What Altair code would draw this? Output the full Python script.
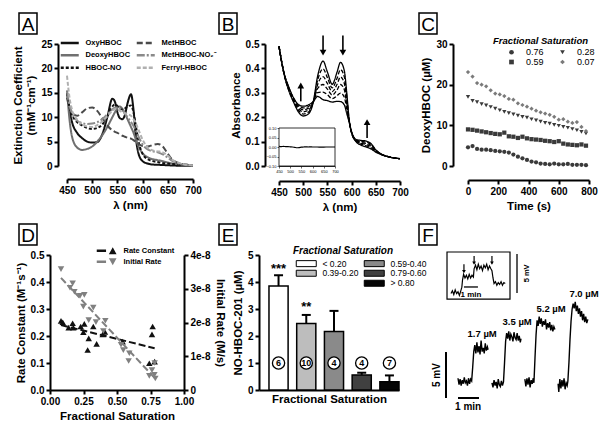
import altair as alt
import pandas as pd

FONT = 'Liberation Sans'

# ---------------- Panel A : extinction spectra ----------------
A_wl = [450,455,460,470,480,490,500,510,520,530,540,545,550,555,560,565,570,577,582,587,592,600,610,620,630,640,650,660,680,700]
A_oxy    = [15.0,11.5,9.0,6.8,5.7,5.0,4.8,4.9,6.5,10.0,13.8,13.2,11.0,9.8,9.6,10.5,12.8,14.7,11.5,5.5,2.5,1.0,0.5,0.3,0.25,0.2,0.15,0.1,0.05,0.03]
A_deoxy  = [15.5,9.5,6.0,3.8,3.3,3.5,4.0,5.0,6.3,8.0,10.0,11.0,11.9,12.2,11.7,10.8,9.6,8.0,6.8,5.3,4.0,2.6,1.8,1.4,1.2,1.0,0.7,0.5,0.3,0.15]
A_no     = [15.0,12.0,10.5,9.0,8.3,7.8,7.6,7.8,8.5,10.2,12.2,12.6,12.3,11.8,11.6,11.8,12.2,12.4,11.0,8.0,5.0,2.5,1.4,1.0,0.8,0.6,0.5,0.4,0.25,0.15]
A_met    = [14.0,12.0,11.0,10.3,11.0,11.8,12.0,11.3,9.8,8.3,7.3,7.0,6.8,6.5,6.2,6.0,5.8,5.6,5.3,4.9,4.5,4.1,4.0,4.3,4.5,4.0,2.5,1.2,0.4,0.2]
A_metno2 = [15.2,12.5,10.8,9.3,8.8,8.6,8.7,9.0,9.6,10.6,11.6,12.0,12.0,11.8,11.4,10.8,10.0,9.0,8.2,7.2,6.0,4.4,3.4,3.0,2.8,2.4,1.7,1.0,0.3,0.1]
A_ferryl = [18.5,14.0,11.5,9.5,8.5,8.1,8.0,8.4,9.1,10.2,11.3,11.7,11.6,11.3,11.0,10.8,10.6,10.3,9.6,8.6,7.4,5.4,3.8,3.2,3.0,2.8,2.1,1.2,0.4,0.15]
A_names = ['OxyHBOC', 'DeoxyHBOC', 'HBOC-NO', 'MetHBOC', 'MetHBOC-NO₂⁻', 'Ferryl-HBOC']
A_values = [A_oxy, A_deoxy, A_no, A_met, A_metno2, A_ferryl]

# ---------------- Panel B : absorbance time course ----------------
B_wl = [450,460,470,480,490,500,510,520,530,541,550,560,570,577,585,590,595,600,610,620,630,640,650,660,680,700]
B_c0 = [0.49,0.38,0.31,0.262,0.222,0.205,0.212,0.255,0.37,0.43,0.385,0.335,0.385,0.425,0.39,0.30,0.19,0.135,0.098,0.085,0.078,0.07,0.057,0.048,0.036,0.03]
B_c1 = [0.49,0.381,0.313,0.265,0.229,0.213,0.219,0.257,0.353,0.398,0.362,0.32,0.36,0.395,0.365,0.285,0.187,0.136,0.100,0.089,0.083,0.075,0.059,0.049,0.036,0.03]
B_c2 = [0.49,0.382,0.316,0.269,0.236,0.222,0.228,0.258,0.335,0.366,0.338,0.305,0.335,0.365,0.338,0.268,0.185,0.137,0.102,0.093,0.088,0.080,0.061,0.049,0.036,0.03]
B_c3 = [0.49,0.383,0.319,0.273,0.242,0.230,0.236,0.259,0.318,0.334,0.315,0.291,0.312,0.334,0.312,0.250,0.183,0.138,0.104,0.097,0.093,0.085,0.063,0.050,0.036,0.03]
B_c4 = [0.49,0.384,0.322,0.277,0.247,0.238,0.243,0.261,0.301,0.303,0.292,0.276,0.288,0.299,0.282,0.233,0.181,0.139,0.106,0.101,0.098,0.089,0.065,0.050,0.036,0.03]
B_c5 = [0.49,0.385,0.325,0.28,0.252,0.245,0.25,0.262,0.285,0.272,0.268,0.262,0.265,0.264,0.25,0.215,0.18,0.14,0.108,0.105,0.102,0.092,0.066,0.05,0.036,0.03]
B_curves = [B_c0, B_c1, B_c2, B_c3, B_c4, B_c5]
B_arrow_wl = [495, 541, 582, 632]
B_arrow_base = [0.265, 0.535, 0.535, 0.115]
B_arrow_tip = [0.33, 0.465, 0.465, 0.18]
Bi_wl = [450,460,470,480,490,500,510,520,530,540,550,560,570,580,590,600,620,640,660,680,700]
Bi_v = [0.003,0.002,0.003,0.002,0.002,0.001,0.0,-0.002,-0.004,-0.003,-0.001,0.0,0.001,0.0,0.001,0.0,0.0,-0.001,0.0,0.0,0.0]

# ---------------- Panel C : deoxy HBOC vs time ----------------
C_t = [0,30,60,90,120,150,180,210,240,270,300,330,360,390,420,450,480,510,540,570,600,630,660,690,720,750,780]
C_076 = [4.6,4.9,4.2,4.0,4.0,3.9,3.7,3.6,3.5,3.3,2.8,2.3,1.9,1.5,1.1,0.9,0.6,0.5,0.4,0.6,0.4,0.4,0.5,0.3,0.3,0.3,0.2]
C_059 = [9.0,8.9,8.7,8.5,8.3,8.1,7.9,7.8,8.2,7.3,7.2,6.9,7.2,6.8,6.6,6.5,6.4,6.2,6.1,5.9,6.1,5.5,5.3,5.2,5.1,5.3,5.0]
C_028 = [17.0,16.0,15.7,15.2,14.9,14.5,14.1,13.7,13.3,13.0,12.7,12.4,12.1,11.9,11.5,11.2,10.9,10.6,10.4,10.1,9.9,9.6,9.4,9.1,8.8,8.4,8.0]
C_007 = [23.1,22.0,20.4,20.0,19.6,18.6,17.8,17.6,17.2,16.5,16.3,15.4,15.0,14.6,14.1,13.6,13.2,12.9,12.6,12.1,11.4,11.5,10.9,10.6,10.8,9.6,8.6]
C_order = ['0.76', '0.59', '0.28', '0.07']
C_values = {'0.76': C_076, '0.59': C_059, '0.28': C_028, '0.07': C_007}

# ---------------- Panel D : rate constant / initial rate ----------------
D_rc_x = [0.082,0.095,0.139,0.169,0.174,0.229,0.256,0.249,0.281,0.289,0.323,0.348,0.393,0.41,0.542,0.741,0.761,0.766,0.781]
D_rc_y = [0.256,0.251,0.231,0.247,0.231,0.235,0.245,0.214,0.148,0.191,0.235,0.171,0.206,0.215,0.179,0.099,0.206,0.235,0.105]
D_ir_x = [0.082,0.149,0.169,0.182,0.224,0.256,0.249,0.323,0.289,0.343,0.413,0.398,0.530,0.547,0.592,0.587,0.741,0.761,0.779,0.786,0.781]
D_ir_y = [3.58e-8,3.03e-8,3.16e-8,2.91e-8,2.79e-8,2.82e-8,2.47e-8,2.44e-8,2.07e-8,2.01e-8,2.05e-8,1.75e-8,1.34e-8,1.18e-8,1.09e-8,0.86e-8,0.42e-8,0.59e-8,0.45e-8,0.34e-8,0.80e-8]
D_leg = ['Rate Constant', 'Initial Rate']

# ---------------- Panel E : NO-HBOC bars ----------------
E_groups = ['< 0.20', '0.39-0.20', '0.59-0.40', '0.79-0.60', '> 0.80']
E_mean = [3.85, 2.46, 2.17, 0.56, 0.31]
E_err = [0.40, 0.32, 0.76, 0.08, 0.23]
E_n = ['6', '10', '4', '4', '7']
E_sig = ['***', '**', '', '', '']
E_sig_y = [4.47, 3.07, 0, 0, 0]

# ---------------- Panel F : electrode traces (time s, signal mV) ----------------
F_t1 = [120,123,126,129,132,135,138,141,144,147,150,153,156,159,162,165,168,171,174,177,180,183,186,189,192,195,198,201,204,206]
F_v1 = [0.3,-0.4,0.2,-0.5,0.1,-0.3,0.4,-0.2,0.0,-0.5,0.3,-0.3,0.2,0.0,1.5,3.2,3.9,3.0,4.2,3.1,3.8,2.9,4.4,3.2,3.6,3.0,4.1,3.3,3.7,3.4]
F_t2 = [217,220,223,226,229,232,235,238,241,244,247,250,253,256,259,262,265,268,271,274,277,280,283,286,289,292,295,298,300]
F_v2 = [-0.2,-0.7,0.1,-0.5,-0.1,-0.8,0.2,-0.4,-0.6,0.0,-0.5,-0.1,2.0,4.3,5.2,4.6,5.4,4.4,5.1,4.8,4.3,5.3,4.7,4.5,5.2,4.4,4.9,4.2,4.6]
F_t3 = [311,314,317,320,323,326,329,332,335,337,340,343,346,349,352,355,358,361,364,367,370,373,376,379,382,385,388,391,394,397]
F_v3 = [0.2,-0.6,0.3,-0.4,0.4,-0.7,0.1,-0.3,0.3,-0.2,2.5,5.0,6.6,6.0,7.0,6.2,6.8,5.9,6.5,6.1,6.7,5.6,6.3,5.8,6.4,5.5,6.1,5.4,5.9,5.6]
F_t4 = [406,408,411,414,417,420,423,426,429,432,434,437,440,443,446,449,452,455,458,461,464,467,470,473,476,479,482,485,488,491]
F_v4 = [-0.3,-1.2,0.2,-0.8,0.1,-0.6,0.3,-0.9,-0.2,-0.5,0.0,2.0,4.5,6.5,7.8,8.4,7.9,8.6,7.6,8.2,7.3,7.9,7.0,7.6,6.6,7.3,6.4,7.0,6.3,6.7]
F_ti = [100,104,108,112,116,120,124,128,131,133,136,140,144,148,152,156,160,164,166,170,174,178,182,186,190,194,198,202,206,210,214,217,220,223,227,231,235,239,243,247,251,255]
F_vi = [9.5,9.8,9.4,9.9,9.5,9.7,9.3,9.8,10.2,11.0,11.6,11.2,11.5,11.1,11.6,11.2,11.5,11.3,12.2,12.6,12.1,12.7,12.2,12.5,12.0,12.6,12.3,12.7,12.1,12.5,12.2,12.0,11.2,10.6,10.8,10.4,10.7,10.5,10.8,10.4,10.7,10.6]
F_lab_text = ['1.7 µM', '3.5 µM', '5.2 µM', '7.0 µM']
F_lab_t = [189, 289, 386, 480]
F_lab_v = [5.1, 6.4, 7.8, 9.5]
F_bar_t = [85.7, 120]
F_bar_t2 = [85.7, 180]
F_bar_v = [3.15, -1.85]
F_bar_v2 = [-1.85, -1.85]
F_ibar_t = [137, 288.6]
F_ibar_t2 = [177, 288.6]
F_ibar_v = [10.22, 13.8]
F_ibar_v2 = [10.22, 9.57]
F_box = {'t1': 88.6, 't2': 268.6, 'v1': 8.91, 'v2': 14.02}
F_arrow_t = [137, 166, 217]
F_arrow_top = [12.7, 13.6, 13.6]
F_arrow_tip = [11.9, 12.8, 12.8]


def letter(ch, x1, y1, w=18, h=21):
    base = alt.Chart(pd.DataFrame({'k': [0]}))
    box = base.mark_rect(fill='white', stroke='black', strokeWidth=1.5).encode(
        x=alt.value(x1), x2=alt.value(x1 + w), y=alt.value(y1), y2=alt.value(y1 + h))
    txt = base.mark_text(text=ch, font=FONT, fontSize=19, align='center', baseline='middle').encode(
        x=alt.value(x1 + w / 2), y=alt.value(y1 + h / 2 + 1))
    return [box, txt]


# ======== Panel A ========
dfA = pd.DataFrame([{'wl': w, 'eps': v, 'series': n}
                    for n, vals in zip(A_names, A_values) for w, v in zip(A_wl, vals)])
legA = alt.Legend(orient='none', legendX=8, legendY=-5, columns=2, title=None,
                  symbolType='M-9,0H9', symbolSize=4, symbolStrokeWidth=2.5, symbolOffset=8,
                  labelFontSize=7.5, labelFontWeight='bold', columnPadding=0,
                  rowPadding=1.5, labelOffset=12, labelLimit=200)
lineA = alt.Chart(dfA).mark_line(strokeWidth=2, interpolate='monotone').encode(
    x=alt.X('wl:Q', scale=alt.Scale(domain=[450, 700], range=[17, 143], nice=False, zero=False),
            axis=alt.Axis(values=[450, 500, 550, 600, 650, 700], offset=13, title='λ (nm)')),
    y=alt.Y('eps:Q', scale=alt.Scale(domain=[0, 25], nice=False),
            axis=alt.Axis(values=[0, 5, 10, 15, 20, 25], offset=-8,
                          title=['Extinction Coefficient', '(mM⁻¹cm⁻¹)'])),
    color=alt.Color('series:N', scale=alt.Scale(domain=A_names,
                    range=['#111111', '#707070', '#111111', '#4a4a4a', '#8a8a8a', '#b0b0b0']), legend=legA),
    strokeDash=alt.StrokeDash('series:N', scale=alt.Scale(domain=A_names,
                              range=[[1, 0], [1, 0], [3, 2], [6, 3], [8, 2, 2, 2], [4, 2]]), legend=legA),
)
panelA = alt.layer(lineA, *letter('A', -31, -31)).properties(width=209, height=122)

# ======== Panel B ========
rowsB = []
for i, vals in enumerate(B_curves):
    for w, v in zip(B_wl, vals):
        rowsB.append({'wl': w, 'abs': v, 'curve': i,
                      'style': 'solid' if i in (0, len(B_curves) - 1) else 'dash'})
dfB = pd.DataFrame(rowsB)
xB_scale = alt.Scale(domain=[450, 700], range=[20, 141], nice=False, zero=False)
xB_axis = alt.Axis(values=[450, 500, 550, 600, 650, 700], offset=15, title='λ (nm)')
yB_scale = alt.Scale(domain=[0, 0.5], nice=False)
yB_axis = alt.Axis(values=[0, 0.1, 0.2, 0.3, 0.4, 0.5], format='.1f', offset=-6, title='Absorbance')
xB = alt.X('wl:Q', scale=xB_scale, axis=xB_axis)
lineB = alt.Chart(dfB).mark_line(color='black', strokeWidth=1.3, interpolate='monotone').encode(
    x=xB, y=alt.Y('abs:Q', scale=yB_scale, axis=yB_axis), detail='curve:N',
    strokeDash=alt.StrokeDash('style:N', scale=alt.Scale(domain=['solid', 'dash'], range=[[1, 0], [4, 2]]), legend=None))
dfBa = pd.DataFrame({'wl': B_arrow_wl, 'abs': B_arrow_base, 'tip': B_arrow_tip})
dfBa['dir'] = ['up' if t > b else 'down' for t, b in zip(B_arrow_tip, B_arrow_base)]
stemB = alt.Chart(dfBa).mark_rule(color='black', strokeWidth=1.6).encode(
    x=xB, y=alt.Y('abs:Q', scale=yB_scale, axis=yB_axis), y2='tip:Q')
headB = alt.Chart(dfBa).mark_point(filled=True, color='black', size=45, opacity=1).encode(
    x=xB, y=alt.Y('tip:Q', scale=yB_scale, axis=yB_axis),
    shape=alt.Shape('dir:N', scale=alt.Scale(domain=['up', 'down'], range=['triangle-up', 'triangle-down']), legend=None))
mainB = alt.layer(lineB, stemB, headB, *letter('B', -40, -31))

xBi_scale = alt.Scale(domain=[450, 700], range=[20, 76], nice=False, zero=False)
yBi_scale = alt.Scale(domain=[-0.1, 0.1], range=[122, 84], nice=False, zero=False)
xBi_axis = alt.Axis(orient='bottom', offset=0, values=[450, 500, 550, 600, 650, 700], title=None,
                    labelFontSize=4, labelFontWeight='normal', tickSize=2, tickWidth=0.6,
                    domainWidth=0.8, labelPadding=1)
yBi_axis = alt.Axis(orient='left', offset=-20, values=[-0.1, -0.05, 0, 0.05, 0.1], format='.2f', title=None,
                    labelFontSize=4, labelFontWeight='normal', tickSize=2, tickWidth=0.6,
                    domainWidth=0.8, labelPadding=1)
dfBi = pd.DataFrame({'wl': Bi_wl, 'd': Bi_v})
dfBbox = pd.DataFrame({'wl': [450], 'wl2': [700], 'd': [-0.1], 'd2': [0.1]})
boxBi = alt.Chart(dfBbox).mark_rect(fill='white', stroke='black', strokeWidth=0.8).encode(
    x=alt.X('wl:Q', scale=xBi_scale, axis=xBi_axis), x2='wl2:Q',
    y=alt.Y('d:Q', scale=yBi_scale, axis=yBi_axis), y2='d2:Q')
lineBi = alt.Chart(dfBi).mark_line(color='black', strokeWidth=1.2, interpolate='monotone').encode(
    x=alt.X('wl:Q', scale=xBi_scale, axis=xBi_axis), y=alt.Y('d:Q', scale=yBi_scale, axis=yBi_axis))
insetB = alt.layer(boxBi, lineBi)
panelB = alt.layer(mainB, insetB).resolve_scale(x='independent', y='independent').properties(width=157, height=122)

# ======== Panel C ========
dfC = pd.DataFrame([{'t': t, 'v': v, 'fs': k} for k in C_order for t, v in zip(C_t, C_values[k])])
legC = alt.Legend(orient='none', legendX=77, legendY=-8, columns=2, title='Fractional Saturation',
                  titleFontStyle='italic', titleFontWeight='bold', titleFontSize=9.5,
                  labelFontSize=9, labelFontWeight='normal', symbolSize=22, columnPadding=-3,
                  rowPadding=0, symbolOffset=14, labelOffset=10, titlePadding=2)
pointsC = alt.Chart(dfC).mark_point(filled=True, size=18, opacity=1).encode(
    x=alt.X('t:Q', scale=alt.Scale(domain=[0, 800], range=[52, 173], nice=False),
            axis=alt.Axis(values=[0, 200, 400, 600, 800], offset=14, title='Time (s)')),
    y=alt.Y('v:Q', scale=alt.Scale(domain=[0, 30], nice=False),
            axis=alt.Axis(values=[0, 10, 20, 30], offset=-37, title='DeoxyHBOC (µM)')),
    shape=alt.Shape('fs:N', scale=alt.Scale(domain=C_order,
                    range=['circle', 'square', 'triangle-down', 'diamond']), legend=legC),
    color=alt.Color('fs:N', scale=alt.Scale(domain=C_order,
                    range=['#3a3a3a', '#3a3a3a', '#3a3a3a', '#7a7a7a']), legend=legC))
panelC = alt.layer(pointsC, *letter('C', 3, -31)).properties(width=185, height=122)

# ======== Panel D ========
dfD1 = pd.DataFrame({'x': D_rc_x, 'y': D_rc_y})
dfD2 = pd.DataFrame({'x': D_ir_x, 'y': D_ir_y})
xD_scale = alt.Scale(domain=[0, 1], range=[0, 134], nice=False)
xD_axis = alt.Axis(values=[0, 0.25, 0.5, 0.75, 1], format='.2f', title='Fractional Saturation')
yD1_scale = alt.Scale(domain=[0, 0.5], nice=False)
yD1_axis = alt.Axis(orient='left', values=[0, 0.1, 0.2, 0.3, 0.4, 0.5], format='.1f',
                    title='Rate Constant (M⁻¹s⁻¹)')
xD = alt.X('x:Q', scale=xD_scale, axis=xD_axis)
yD1 = alt.Y('y:Q', scale=yD1_scale, axis=yD1_axis)
yD2 = alt.Y('y:Q', scale=alt.Scale(domain=[0, 4e-8], nice=False),
            axis=alt.Axis(orient='right', offset=-75, values=[0, 1e-8, 2e-8, 3e-8, 4e-8],
                          labelExpr="datum.value == 0 ? '0' : round(datum.value * 1e8) + 'e-8'",
                          title='Initial Rate (M/s)'))
ptsD1 = alt.Chart(dfD1).mark_point(shape='triangle-up', filled=True, size=42, color='#111111', opacity=1).encode(x=xD, y=yD1)
regD1 = alt.Chart(dfD1).transform_regression('x', 'y').mark_line(color='#111111', strokeDash=[7, 3], strokeWidth=2).encode(x=xD, y=yD1)
ptsD2 = alt.Chart(dfD2).mark_point(shape='triangle-down', filled=True, size=42, color='#808080', opacity=1).encode(x=xD, y=yD2)
regD2 = alt.Chart(dfD2).transform_regression('x', 'y').mark_line(color='#808080', strokeDash=[7, 3], strokeWidth=2).encode(x=xD, y=yD2)
pathUp = 'M-11,-1.2H-1.7V1.2H-11Z M1.1,3.4L5,-3.4L8.8,3.4Z'
pathDown = 'M-11,-1.2H-1.7V1.2H-11Z M1.1,-3.4L5,3.4L8.8,-3.4Z'
legD = alt.Legend(orient='none', legendX=44, legendY=-8, title=None, symbolSize=4, symbolOffset=10,
                  labelFontSize=7.5, labelFontWeight='bold', rowPadding=2, labelOffset=12)
dumD = alt.Chart(pd.DataFrame({'series': D_leg})).mark_point(filled=True, opacity=1).encode(
    x=alt.datum(0.5, scale=xD_scale, axis=xD_axis),
    y=alt.datum(0.25, scale=yD1_scale, axis=yD1_axis),
    size=alt.value(0),
    shape=alt.Shape('series:N', scale=alt.Scale(domain=D_leg, range=[pathUp, pathDown]), legend=legD),
    color=alt.Color('series:N', scale=alt.Scale(domain=D_leg, range=['#111111', '#808080']), legend=legD))
leftD = alt.layer(regD1, ptsD1, dumD, *letter('D', -31, -31))
rightD = alt.layer(ptsD2, regD2)
panelD = alt.layer(leftD, rightD).resolve_scale(y='independent').properties(width=209, height=135)

# ======== Panel E ========
dfE = pd.DataFrame({'grp': E_groups, 'mean': E_mean, 'err': E_err, 'n': E_n, 'sig': E_sig, 'sig_y': E_sig_y})
E_leg_order = ['< 0.20', '0.39-0.20', ' ', '0.59-0.40', '0.79-0.60', '> 0.80']
E_leg_fill = ['#ffffff', '#bdbdbd', 'transparent', '#8a8a8a', '#404040', '#050505']
E_leg_stroke = ['#000000', '#000000', 'transparent', '#000000', '#000000', '#000000']
legE = alt.Legend(orient='none', legendX=34, legendY=-9, columns=2, title='Fractional Saturation',
                  titleFontStyle='italic', titleFontWeight='bold', titleFontSize=10,
                  labelFontSize=8.5, labelFontWeight='normal', symbolType='M-10,-3H10V3H-10Z',
                  symbolSize=4, symbolOffset=9, symbolStrokeWidth=1, columnPadding=2, rowPadding=-4,
                  labelOffset=12, titlePadding=3, labelLimit=200)
baseE = alt.Chart(dfE).transform_calculate(top='datum.mean + datum.err')
xE = alt.X('grp:N', sort=E_groups,
           scale=alt.Scale(domain=E_groups, range=[0, 140], paddingInner=0.31, paddingOuter=0.18, align=1),
           axis=alt.Axis(labels=False, ticks=False, title='Fractional Saturation', titlePadding=3))
yE_scale = alt.Scale(domain=[0, 5], nice=False)
yE_axis = alt.Axis(values=[0, 1, 2, 3, 4, 5], title='NO-HBOC-201 (µM)')
barsE = baseE.mark_bar(strokeWidth=1.5).encode(
    x=xE, y=alt.Y('mean:Q', scale=yE_scale, axis=yE_axis),
    fill=alt.Fill('grp:N', scale=alt.Scale(domain=E_leg_order, range=E_leg_fill), legend=legE),
    stroke=alt.Stroke('grp:N', scale=alt.Scale(domain=E_leg_order, range=E_leg_stroke), legend=legE))
errE = baseE.mark_rule(strokeWidth=2, color='black').encode(
    x=xE, y=alt.Y('mean:Q', scale=yE_scale, axis=yE_axis), y2='top:Q')
capE = baseE.mark_tick(thickness=2, size=9, color='black', opacity=1).encode(
    x=xE, y=alt.Y('top:Q', scale=yE_scale, axis=yE_axis))
circE = baseE.mark_point(shape='circle', filled=True, fill='white', stroke='black', strokeWidth=1.3,
                         size=150, opacity=1).encode(x=xE, y=alt.datum(1, scale=yE_scale, axis=yE_axis))
nE = baseE.mark_text(font=FONT, fontSize=9, fontWeight='bold', baseline='middle').encode(
    x=xE, y=alt.datum(1, scale=yE_scale, axis=yE_axis), text='n:N')
sigE = baseE.mark_text(font=FONT, fontSize=13, fontWeight='bold', baseline='middle').encode(
    x=xE, y=alt.Y('sig_y:Q', scale=yE_scale, axis=yE_axis), text='sig:N')
panelE = alt.layer(barsE, errE, capE, circE, nE, sigE, *letter('E', -40, -31)).properties(width=157, height=135)

# ======== Panel F ========
xF_scale = alt.Scale(domain=[0, 528.6], nice=False, zero=False)
yF_scale = alt.Scale(domain=[-0.978, 13.696], nice=False, zero=False)


def fx(field):
    return alt.X(field, scale=xF_scale, axis=None)


def fy(field):
    return alt.Y(field, scale=yF_scale, axis=None)


dfF = pd.DataFrame([{'t': t, 'v': v, 'trace': k}
                    for k, (ts, vs) in enumerate([(F_t1, F_v1), (F_t2, F_v2), (F_t3, F_v3), (F_t4, F_v4)])
                    for t, v in zip(ts, vs)])
tracesF = alt.Chart(dfF).mark_line(color='black', strokeWidth=1.4).encode(x=fx('t:Q'), y=fy('v:Q'), detail='trace:N')
boxF = alt.Chart(pd.DataFrame([F_box])).mark_rect(fill='white', stroke='black', strokeWidth=1.2).encode(
    x=fx('t1:Q'), x2='t2:Q', y=fy('v1:Q'), y2='v2:Q')
insetF = alt.Chart(pd.DataFrame({'t': F_ti, 'v': F_vi})).mark_line(color='black', strokeWidth=1.2).encode(
    x=fx('t:Q'), y=fy('v:Q'))
barsF = alt.Chart(pd.DataFrame({'t': F_bar_t, 't2': F_bar_t2, 'v': F_bar_v, 'v2': F_bar_v2})).mark_rule(
    color='black', strokeWidth=2).encode(x=fx('t:Q'), x2='t2:Q', y=fy('v:Q'), y2='v2:Q')
ibarsF = alt.Chart(pd.DataFrame({'t': F_ibar_t, 't2': F_ibar_t2, 'v': F_ibar_v, 'v2': F_ibar_v2})).mark_rule(
    color='black', strokeWidth=1.3).encode(x=fx('t:Q'), x2='t2:Q', y=fy('v:Q'), y2='v2:Q')
dfFa = pd.DataFrame({'t': F_arrow_t, 'v': F_arrow_top, 'tip': F_arrow_tip})
stemF = alt.Chart(dfFa).mark_rule(color='black', strokeWidth=1.2).encode(x=fx('t:Q'), y=fy('v:Q'), y2='tip:Q')
headF = alt.Chart(dfFa).mark_point(shape='triangle-down', filled=True, color='black', size=14, opacity=1).encode(
    x=fx('t:Q'), y=fy('tip:Q'))
labF = alt.Chart(pd.DataFrame({'t': F_lab_t, 'v': F_lab_v, 'txt': F_lab_text})).mark_text(
    font=FONT, fontSize=9.5, fontWeight='bold', baseline='middle').encode(x=fx('t:Q'), y=fy('v:Q'), text='txt:N')
sbF = alt.Chart(pd.DataFrame({'t': [149], 'v': [-2.85], 'txt': ['1 min']})).mark_text(
    font=FONT, fontSize=10, fontWeight='bold', baseline='middle').encode(x=fx('t:Q'), y=fy('v:Q'), text='txt:N')
svF = alt.Chart(pd.DataFrame({'t': [60], 'v': [0.65], 'txt': ['5 mV']})).mark_text(
    font=FONT, fontSize=10, fontWeight='bold', baseline='middle', angle=270).encode(x=fx('t:Q'), y=fy('v:Q'), text='txt:N')
isbF = alt.Chart(pd.DataFrame({'t': [157], 'v': [9.4], 'txt': ['1 min']})).mark_text(
    font=FONT, fontSize=8, fontWeight='bold', baseline='middle').encode(x=fx('t:Q'), y=fy('v:Q'), text='txt:N')
isvF = alt.Chart(pd.DataFrame({'t': [316], 'v': [11.7], 'txt': ['5 mV']})).mark_text(
    font=FONT, fontSize=7.5, fontWeight='bold', baseline='middle', angle=270).encode(x=fx('t:Q'), y=fy('v:Q'), text='txt:N')
panelF = alt.layer(tracesF, boxF, insetF, barsF, ibarsF, stemF, headF, labF, sbF, svF, isbF, isvF,
                   *letter('F', 3, -31)).properties(width=185, height=135)

chart = (
    alt.concat(panelA, panelB, panelC, panelD, panelE, panelF, columns=3)
    .properties(spacing={'row': 89, 'column': 0}, bounds='flush', align='each',
                padding={'left': 4, 'top': 4, 'right': 2, 'bottom': 2})
    .resolve_scale(color='independent', shape='independent', strokeDash='independent',
                   fill='independent', stroke='independent', x='independent', y='independent')
    .configure(font=FONT)
    .configure_view(stroke=None)
    .configure_axis(grid=False, domainColor='black', domainWidth=2, tickColor='black', tickWidth=2,
                    tickSize=4, labelColor='black', titleColor='black', labelFont=FONT, titleFont=FONT,
                    labelFontSize=10, labelFontWeight='bold', titleFontSize=11.5, titleFontWeight='bold',
                    labelPadding=2, titlePadding=4, labelFlush=False, labelOverlap=False)
    .configure_legend(labelFont=FONT, titleFont=FONT, labelColor='black', titleColor='black', padding=0)
)

chart.save('out.html', embed_options={'renderer': 'svg', 'actions': False})
